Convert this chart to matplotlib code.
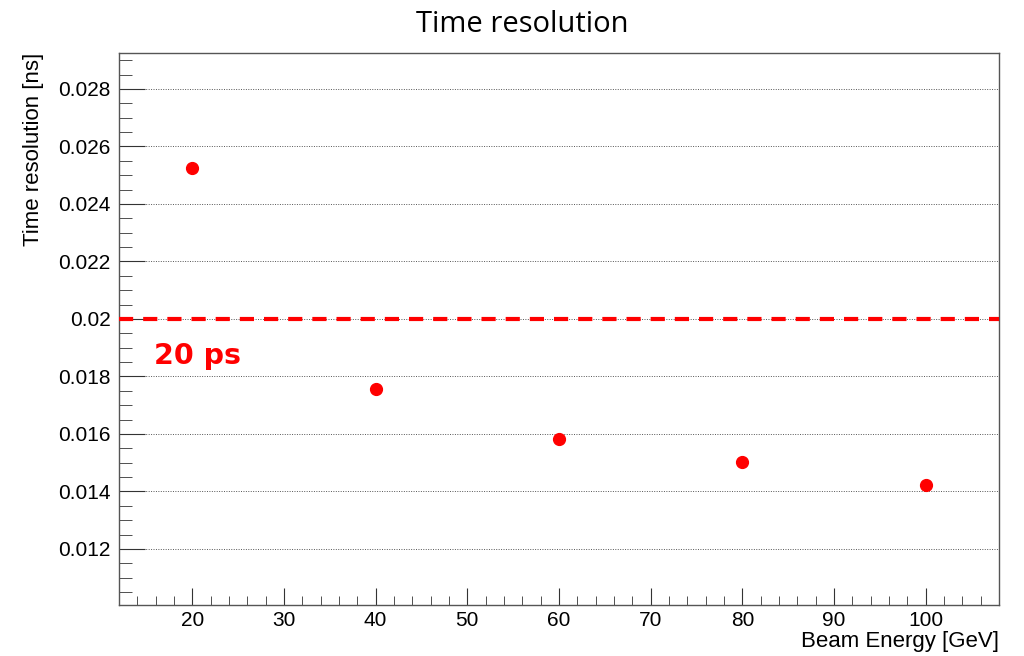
import matplotlib
matplotlib.use('Agg')
import matplotlib.pyplot as plt
from matplotlib.ticker import MultipleLocator

# beam energies and measured time resolution
energy = [20, 40, 60, 80, 100]
resolution = [0.02525, 0.01756, 0.01583, 0.01503, 0.01422]
threshold = 0.02
threshold_label = "20 ps"

plt.rcParams['font.family'] = ['Liberation Sans', 'DejaVu Sans']

fig = plt.figure(figsize=(10.24, 6.56), dpi=100)
ax = fig.add_axes([119 / 1024, 1 - 605 / 656, 880 / 1024, 552 / 656])

ax.set_xlim(12, 108)
ax.set_ylim(0.01005, 0.02925)

# grid at major y ticks only
ax.yaxis.set_major_locator(MultipleLocator(0.002))
ax.yaxis.set_minor_locator(MultipleLocator(0.0005))
ax.xaxis.set_major_locator(MultipleLocator(10))
ax.xaxis.set_minor_locator(MultipleLocator(2))
ax.grid(axis='y', which='major', color='#555555', linestyle=(0, (1, 1.5)), linewidth=0.7)
ax.set_axisbelow(True)

ax.axhline(threshold, color='#ff0000', linewidth=3, linestyle=(0, (3.4, 2.4)), zorder=3)
ax.text(15.8, 0.01872, threshold_label, color='#ff0000', fontsize=20.5,
        fontweight='bold', family=['DejaVu Sans'], va='center')

ax.plot(energy, resolution, 'o', color='#ff0000', markersize=8.5, zorder=4)

ax.yaxis.set_major_formatter(matplotlib.ticker.FuncFormatter(lambda v, p: f"{v:g}"))
ax.tick_params(axis='both', which='both', direction='in', colors='#333333',
               labelcolor='black', labelsize=15)
ax.tick_params(axis='y', which='major', length=19, pad=6)
ax.tick_params(axis='y', which='minor', length=9.5)
ax.tick_params(axis='x', which='major', length=12, pad=4)
ax.tick_params(axis='x', which='minor', length=6.5)
ax.tick_params(top=False, right=False, which='both')
for s in ax.spines.values():
    s.set_color('#555555')
    s.set_linewidth(1)

ax.set_xlabel("Beam Energy [GeV]", fontsize=16, loc='right', labelpad=1)
ax.set_ylabel("Time resolution [ns]", fontsize=16, loc='top', labelpad=10)

fig.suptitle("Time resolution", fontsize=21, family=['Open Sans', 'DejaVu Sans'],
             x=0.51, y=0.985)

plt.savefig('out.png', dpi=100)
